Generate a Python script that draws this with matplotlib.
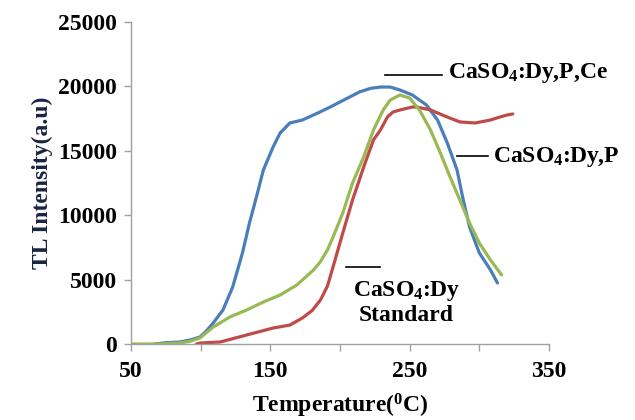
import matplotlib
matplotlib.use("Agg")
import matplotlib.pyplot as plt

plt.rcParams['font.family'] = ['Liberation Serif', 'DejaVu Serif']
plt.rcParams['font.weight'] = 'bold'
plt.rcParams['mathtext.default'] = 'regular'

# --- data ---
blue_T = [67, 75, 85, 92, 99.5, 104, 109, 116, 123, 130, 135, 140, 145, 152, 157, 164, 173,
          184, 193, 200, 214, 222, 229, 236, 243, 252, 262, 270, 277, 284, 288, 293, 300, 308, 313]
blue_I = [0, 100, 155, 300, 540, 1000, 1630, 2640, 4430, 7070, 9390, 11410, 13510, 15300, 16380,
          17160, 17390, 17930, 18400, 18790, 19570, 19850, 19950, 19950, 19720, 19330, 18560,
          17390, 15610, 13510, 11410, 9080, 7070, 5750, 4740]

green_T = [50, 70, 85, 92, 99.5, 109, 121, 133, 145, 157, 169, 181, 186, 191, 195, 202, 209, 217,
           224, 231, 236, 243, 250, 257, 265, 272, 279, 286, 293, 300, 308, 316]
green_I = [0, 0, 80, 200, 470, 1320, 2100, 2640, 3260, 3800, 4580, 5750, 6400, 7300, 8300, 10170,
           12500, 14520, 16610, 18170, 18940, 19330, 19100, 18170, 16610, 14830, 12970, 11180,
           9390, 7840, 6520, 5360]

red_T = [97, 100, 114, 133, 152, 164, 173, 180, 186, 191, 195, 202, 209, 217, 224, 229, 234, 238,
         243, 252, 255, 265, 277, 286, 297, 308, 314, 320, 324]
red_I = [0, 80, 155, 700, 1240, 1470, 2020, 2600, 3420, 4500, 5980, 8620, 11180, 13740, 15840,
         16610, 17620, 18010, 18170, 18400, 18400, 18170, 17620, 17240, 17160, 17390, 17600, 17780,
         17860]

x_ticks = [50, 100, 150, 200, 250, 300, 350]
x_tick_labels = ['50', '', '150', '', '250', '', '350']
y_ticks = [0, 5000, 10000, 15000, 20000, 25000]

label_ce = 'CaSO$_4$:Dy,P,Ce'
label_p = 'CaSO$_4$:Dy,P'
label_std = 'CaSO$_4$:Dy\nStandard'

FS = 17

fig = plt.figure(figsize=(6.35, 4.2), dpi=100)
ax = fig.add_axes([131/635, 1-344/420, (549-131)/635, (344-22)/420])

ax.plot(blue_T, blue_I, color='#4A7EBB', lw=2.3, solid_capstyle='round', solid_joinstyle='round')
ax.plot(red_T, red_I, color='#BE4B48', lw=2.3, solid_capstyle='round', solid_joinstyle='round')
ax.plot(green_T, green_I, color='#98B954', lw=2.3, solid_capstyle='round', solid_joinstyle='round')

ax.set_xlim(50, 350)
ax.set_ylim(0, 25000)
ax.set_xticks(x_ticks)
ax.set_xticklabels(x_tick_labels)
ax.set_yticks(y_ticks)
ax.tick_params(axis='both', which='major', labelsize=FS, length=5, width=1, color='#A0A0A0', direction='out')
ax.tick_params(axis='x', pad=7)
ax.tick_params(axis='y', pad=5)
for lab in ax.get_xticklabels() + ax.get_yticklabels():
    lab.set_fontweight('bold')

for s in ['top', 'right']:
    ax.spines[s].set_visible(False)
for s in ['left', 'bottom']:
    ax.spines[s].set_color('#A0A0A0')
    ax.spines[s].set_linewidth(1)

ax.set_xlabel('Temperature($^0$C)', fontsize=FS, fontweight='bold', labelpad=7)
ax.set_ylabel('TL Intensity(a.u)', fontsize=FS, fontweight='bold', color='#1A2440', labelpad=4)

# annotations
ax.plot([232.3, 273.2], [20885, 20885], color='black', lw=1.2, clip_on=False)
ax.text(277.5, 21040, label_ce, fontsize=FS, fontweight='bold', ha='left', va='center', clip_on=False)

ax.plot([284, 306.2], [14600, 14600], color='black', lw=1.2, clip_on=False)
ax.text(309.8, 14520, label_p, fontsize=FS, fontweight='bold', ha='left', va='center', clip_on=False)

ax.plot([204.3, 228.7], [5980, 5980], color='black', lw=1.2, clip_on=False)
ax.text(247.4, 3200, label_std, fontsize=FS, fontweight='bold', ha='center', va='center',
        multialignment='center', linespacing=1.1, clip_on=False)

fig.savefig('out.png', dpi=100)
